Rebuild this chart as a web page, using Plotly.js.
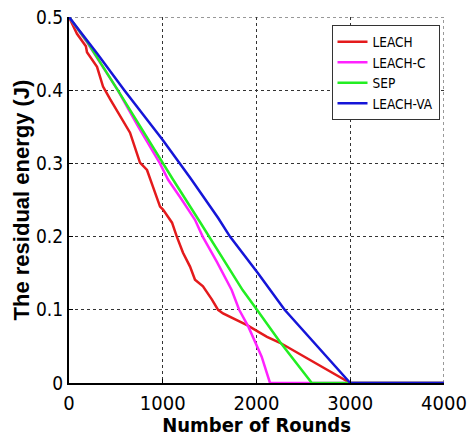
<!DOCTYPE html>
<html>
<head>
<meta charset="utf-8">
<script src="https://cdn.plot.ly/plotly-3.0.1.min.js"></script>
<style>html,body{margin:0;padding:0;background:#fff;}#chart{width:470px;height:437px;}</style>
</head>
<body>
<div id="chart"></div>
<script>
// Series names
const seriesNames = ["LEACH", "LEACH-C", "SEP", "LEACH-VA"];
// LEACH (red)
const leachX = [0, 85, 180, 192, 299, 363, 437, 544, 651, 757, 832, 896, 971, 1003, 1099, 1150, 1216, 1291, 1344, 1429, 1525, 1590, 1643, 1899, 2112, 2251, 3000, 4000];
const leachY = [0.5, 0.477, 0.460, 0.452, 0.432, 0.405, 0.388, 0.364, 0.342, 0.301, 0.291, 0.268, 0.241, 0.237, 0.219, 0.200, 0.178, 0.159, 0.141, 0.132, 0.114, 0.100, 0.095, 0.079, 0.063, 0.055, 0, 0];
// LEACH-C (magenta)
const leachCX = [0, 200, 520, 740, 970, 1056, 1200, 1344, 1426, 1579, 1735, 1815, 1913, 2055, 2144, 4000];
const leachCY = [0.5, 0.464, 0.4, 0.35, 0.3, 0.278, 0.251, 0.223, 0.2, 0.165, 0.127, 0.1, 0.077, 0.036, 0, 0];
// SEP (green)
const sepX = [0, 200, 520, 1000, 1109, 1397, 1495, 1717, 1852, 2005, 2251, 2590, 4000];
const sepY = [0.5, 0.465, 0.4, 0.3, 0.278, 0.22, 0.2, 0.155, 0.127, 0.1, 0.056, 0, 0];
// LEACH-VA (blue)
const vaX = [0, 300, 590, 1000, 1300, 1593, 1717, 2016, 2300, 2752, 3000, 4000];
const vaY = [0.5, 0.45, 0.4, 0.332, 0.279, 0.225, 0.2, 0.15, 0.1, 0.036, 0, 0];

const xTicks = [0, 1000, 2000, 3000, 4000];
const yTicks = [0, 0.1, 0.2, 0.3, 0.4, 0.5];

const colors = ["#e41a1c", "#ff22ff", "#22ee22", "#1515d8"];
const xs = [leachX, leachCX, sepX, vaX];
const ys = [leachY, leachCY, sepY, vaY];

const narrow = '"DejaVu Sans Condensed", "Liberation Sans", Arial, sans-serif';

const traces = seriesNames.map((n, i) => ({
  x: xs[i], y: ys[i], name: n, type: "scatter", mode: "lines",
  line: {color: colors[i], width: 2.5}
}));

const gridStyle = {color: "#333", width: 1, dash: "dot"};

const layout = {
  width: 470, height: 437,
  margin: {l: 69, r: 26, t: 17, b: 54},
  paper_bgcolor: "#fff", plot_bgcolor: "#fff",
  showlegend: true,
  legend: {
    x: 0.70, y: 0.977, xanchor: "left", yanchor: "top",
    bordercolor: "#333", borderwidth: 1, bgcolor: "#fff",
    font: {family: narrow, size: 13.5, color: "#000"},
    tracegroupgap: 0, itemwidth: 30
  },
  shapes: [
    {type: "line", xref: "x", yref: "y", x0: xTicks[0], x1: xTicks[xTicks.length - 1], y0: yTicks[yTicks.length - 1], y1: yTicks[yTicks.length - 1], line: gridStyle, layer: "below"},
    {type: "line", xref: "x", yref: "y", x0: xTicks[xTicks.length - 1], x1: xTicks[xTicks.length - 1], y0: yTicks[0], y1: yTicks[yTicks.length - 1], line: gridStyle, layer: "below"}
  ],
  xaxis: {
    range: [0, 4000], tickvals: xTicks, ticktext: xTicks.map(String),
    showgrid: true, gridcolor: "#333", griddash: "dot", gridwidth: 1,
    zeroline: false, showline: true, linecolor: "#000", linewidth: 2,
    ticks: "inside", ticklen: 4, tickcolor: "#000",
    tickfont: {family: narrow, size: 20, color: "#000"},
    ticklabelstandoff: 1,
    title: {text: "<b>Number of Rounds</b>", font: {family: narrow, size: 20, color: "#000"}, standoff: 1}
  },
  yaxis: {
    range: [0, 0.5], tickvals: yTicks, ticktext: yTicks.map(String),
    showgrid: true, gridcolor: "#333", griddash: "dot", gridwidth: 1,
    zeroline: false, showline: true, linecolor: "#000", linewidth: 2,
    ticks: "inside", ticklen: 4, tickcolor: "#000",
    tickfont: {family: narrow, size: 19, color: "#000"},
    ticklabelstandoff: 0,
    title: {text: "<b>The residual energy (J)</b>", font: {family: 'Liberation Sans, Arial, sans-serif', size: 22, color: "#000"}, standoff: 0}
  }
};

Plotly.newPlot("chart", traces, layout, {displayModeBar: false, staticPlot: true});
</script>
</body>
</html>
